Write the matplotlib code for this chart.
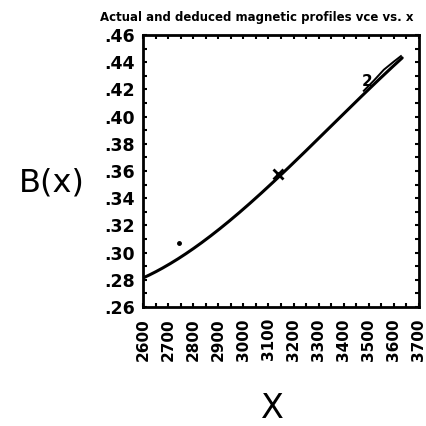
import numpy as np
import matplotlib
matplotlib.use("Agg")
import matplotlib.pyplot as plt
from matplotlib.ticker import MultipleLocator, FuncFormatter

# Data
x_actual = [2600, 2612, 2723, 2857, 2988, 3067, 3138, 3213, 3344, 3435, 3514, 3633]
b_actual = [0.2813, 0.2821, 0.2947, 0.3094, 0.3294, 0.3412, 0.3589, 0.3685, 0.3906, 0.4091, 0.4216, 0.4437]
x_deduced = [3480, 3520, 3560, 3600, 3628]
b_deduced = [0.4190, 0.4265, 0.4345, 0.4405, 0.4445]
x_cross = [3138]
b_cross = [0.3575]
x_label2 = 3494
b_label2 = 0.4255
x_dot = [2742]
b_dot = [0.307]
x_ticks = list(range(2600, 3701, 100))
y_ticks = [0.26, 0.28, 0.30, 0.32, 0.34, 0.36, 0.38, 0.40, 0.42, 0.44, 0.46]

W, H = 427, 426
fig = plt.figure(figsize=(W / 100, H / 100), dpi=100)
ax = fig.add_axes([143 / W, 1 - 307 / H, (419 - 143) / W, (307 - 35) / H])

xs = np.array(x_actual, dtype=float)
ys = np.array(b_actual, dtype=float)
coef = np.polyfit(xs, ys, 3)
xx = np.linspace(2600, 3633, 200)
ax.plot(xx, np.polyval(coef, xx), color='black', lw=2.2, solid_capstyle='round')
ax.plot(x_deduced, b_deduced, color='black', lw=1.4)
ax.plot(x_cross, b_cross, marker='x', color='black', ms=7, mew=2.0, ls='none')
ax.text(x_label2, b_label2, '2', fontsize=11, fontweight='bold', ha='center', va='center')
ax.plot(x_dot, b_dot, 'o', color='black', ms=2.5)

ax.set_xlim(2600, 3700)
ax.set_ylim(0.26, 0.46)
ax.set_xticks(x_ticks)
ax.set_yticks(y_ticks)
ax.xaxis.set_minor_locator(MultipleLocator(50))
ax.yaxis.set_minor_locator(MultipleLocator(0.01))
ax.yaxis.set_major_formatter(FuncFormatter(lambda v, p: ('%.2f' % v)[1:]))
ax.tick_params(which='both', direction='in', top=True, right=True, length=3, width=1.5)
ax.tick_params(axis='x', which='major', labelsize=11, rotation=90, pad=8)
ax.tick_params(axis='y', which='major', labelsize=12.5, pad=6)
for lab in ax.get_xticklabels() + ax.get_yticklabels():
    lab.set_fontweight('bold')
for s in ax.spines.values():
    s.set_linewidth(2)

fig.text(257 / W, 1 - 17 / H, 'Actual and deduced magnetic profiles vce vs. x',
         fontsize=8.5, fontweight='bold', ha='center', va='center')
fig.text(52 / W, 1 - 183 / H, 'B(x)', fontsize=23, ha='center', va='center')
fig.text(272 / W, 1 - 409 / H, 'X', fontsize=24, ha='center', va='center')

fig.savefig('out.png', dpi=100, facecolor='white')
